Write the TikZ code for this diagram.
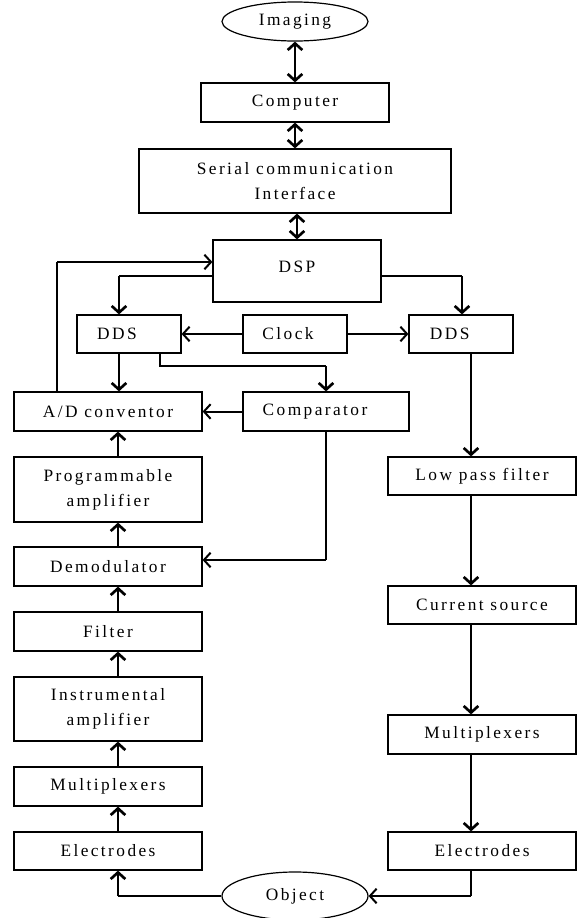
\documentclass[tikz,border=0pt]{standalone}
\usepackage{fontspec}
\newfontfamily\lsfont[LetterSpace=14]{Liberation Serif}
\usetikzlibrary{arrows.meta,shapes.geometric}
\begin{document}
\begin{tikzpicture}[x=0.75pt,y=-0.75pt,
  every node/.style={font=\lsfont\fontsize{13}{18.75}\selectfont, align=center},
  blk/.style 2 args={draw, line width=0.9pt, inner sep=0pt,
     minimum width={#1*0.75pt}, minimum height={#2*0.75pt}},
  oval/.style={draw, ellipse, line width=0.9pt, inner sep=0pt, minimum width=109.5pt},
  tip/.style={-{Straight Barb[length=5pt,width=11pt]}},
  dbl/.style={{Straight Barb[length=5pt,width=11pt]}-{Straight Barb[length=5pt,width=11pt]}, line width=2pt},
  thk/.style={tip, line width=2pt},
  med/.style={tip, line width=1.5pt},
  thn/.style={line width=0.9pt},
]
\useasboundingbox (0,0) rectangle (577,918);

% nodes
\node[oval, minimum height=29.25pt] (img) at (295,21.5) {Imaging};
\node[blk={188}{39}] (comp) at (295,102.5) {Computer};
\node[blk={312}{64}] (serial) at (295,181) {Serial communication\\Interface};
\node[blk={168}{62}] (dsp) at (297,271) {\raisebox{3pt}[\height][\depth]{DSP}};
\node[blk={104}{38}] (dds1) at (129,334) {\hspace*{-18pt}DDS};
\node[blk={104}{38}] (clock) at (295,334) {\hspace*{-10.5pt}Clock};
\node[blk={104}{38}] (dds2) at (461,334) {\hspace*{-17pt}DDS};
\node[blk={188}{39}] (ad) at (108,411.5) {A/D conventor};
\node[blk={166}{39}] (cmp) at (326,411.5) {\hspace*{-16.5pt}Comparator};
\node[blk={188}{65}] (prog) at (108,489.5) {Programmable\\amplifier};
\node[blk={188}{39}] (demod) at (108,566.5) {Demodulator};
\node[blk={188}{39}] (filt) at (108,631.5) {Filter};
\node[blk={188}{64}] (instr) at (108,709) {Instrumental\\amplifier};
\node[blk={188}{39}] (mux1) at (108,786.5) {Multiplexers};
\node[blk={188}{38}] (elec1) at (108,851) {Electrodes};
\node[blk={188}{38}] (lpf) at (482,476) {Low pass filter};
\node[blk={188}{38}] (cs) at (482,605) {Current source};
\node[blk={188}{39}] (mux2) at (482,734.5) {Multiplexers};
\node[blk={188}{38}] (elec2) at (482,851) {Electrodes};
\node[oval, minimum height=36pt] (obj) at (295,896) {Object};

% helper coordinates
\coordinate (fb) at (57,262);
\coordinate (lt) at (119,276);
\coordinate (rt) at (462,276);
\coordinate (dc) at (160,366);
\coordinate (cd) at (326,560);
\coordinate (lc) at (118,0);
\coordinate (rc) at (471,0);

% connectors
\draw[dbl] (img) -- (comp);
\draw[dbl] (comp) -- (serial);
\draw[dbl] (serial.south -| dsp.north) -- (dsp.north);

\draw[thn] (ad.north -| fb) -- (fb);
\draw[med] (fb) -- (dsp.west |- fb);

\draw[thn] (dsp.west |- lt) -- (lt);
\draw[thk] (lt) -- (dds1.north -| lt);
\draw[thn] (dsp.east |- rt) -- (rt);
\draw[thk] (rt) -- (dds2.north -| rt);

\draw[med] (clock.west) -- (dds1.east);
\draw[med] (clock.east) -- (dds2.west);

\draw[thk] (dds1.south -| lt) -- (ad.north -| lt);
\draw[thn] (dds1.south -| dc) -- (dc) -- (dc -| cmp.north);
\draw[thk] (dc -| cmp.north) -- (cmp.north);
\draw[med] (cmp.west) -- (ad.east);
\draw[thn] (cmp.south) -- (cd);
\draw[med] (cd) -- (demod.east |- cd);

\draw[thk] (prog.north -| lc) -- (ad.south -| lc);
\draw[thk] (demod.north -| lc) -- (prog.south -| lc);
\draw[thk] (filt.north -| lc) -- (demod.south -| lc);
\draw[thk] (instr.north -| lc) -- (filt.south -| lc);
\draw[thk] (mux1.north -| lc) -- (instr.south -| lc);
\draw[thk] (elec1.north -| lc) -- (mux1.south -| lc);
\draw[thn] (obj.west) -- (lc |- obj.west);
\draw[thk] (lc |- obj.west) -- (elec1.south -| lc);

\draw[thk] (dds2.south -| rc) -- (lpf.north -| rc);
\draw[thk] (lpf.south -| rc) -- (cs.north -| rc);
\draw[thk] (cs.south -| rc) -- (mux2.north -| rc);
\draw[thk] (mux2.south -| rc) -- (elec2.north -| rc);
\draw[thn] (elec2.south -| rc) -- (rc |- obj.east);
\draw[med] (rc |- obj.east) -- (obj.east);
\end{tikzpicture}
\end{document}
